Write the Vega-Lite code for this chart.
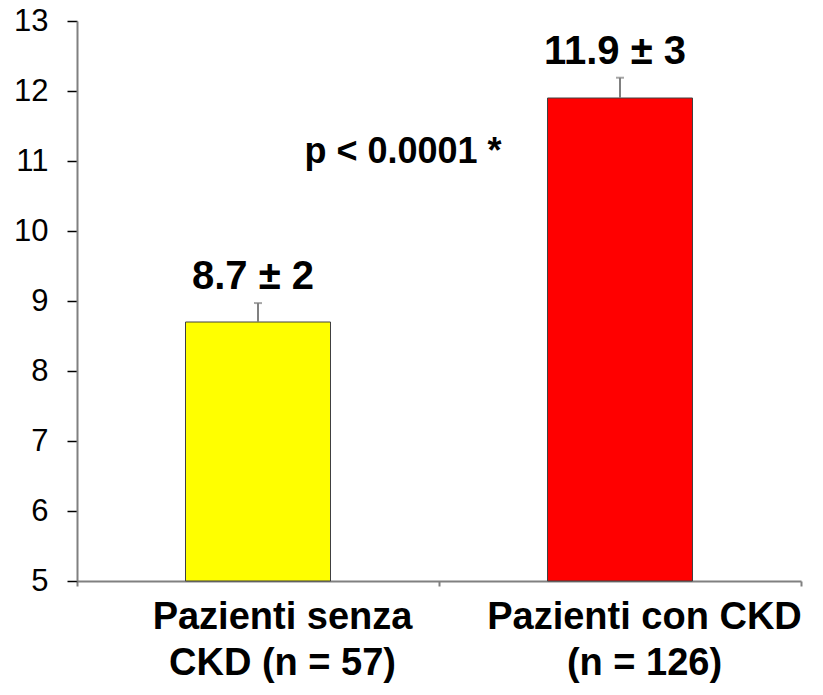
{
  "$schema": "https://vega.github.io/schema/vega-lite/v6.json",
  "width": 724,
  "height": 560,
  "autosize": "none",
  "padding": {"left": 77, "top": 21, "right": 22, "bottom": 114},
  "background": "white",
  "config": {"view": {"stroke": null}},
  "data": {
    "values": [
      {"gruppo": "Pazienti senza|CKD  (n = 57)", "media": 8.7, "sup": 8.97, "etichetta": "8.7 ± 2", "colore": "giallo"},
      {"gruppo": "Pazienti con CKD|(n = 126)", "media": 11.9, "sup": 12.19, "etichetta": "11.9 ± 3", "colore": "rosso"}
    ]
  },
  "layer": [
    {
      "mark": {"type": "bar", "size": 145, "stroke": "#404040", "strokeWidth": 1},
      "encoding": {
        "x": {
          "field": "gruppo",
          "type": "nominal",
          "sort": null,
          "scale": {"paddingInner": 0, "paddingOuter": 0},
          "axis": {
            "title": null,
            "orient": "bottom",
            "labelAngle": 0,
            "labelExpr": "split(datum.label, '|')",
            "labelLimit": 0,
            "labelFont": "Liberation Sans",
            "labelFontWeight": "bold",
            "labelFontSize": 38,
            "labelLineHeight": 46,
            "labelColor": "black",
            "labelPadding": 12,
            "labelOffset": 24,
            "tickBand": "extent",
            "tickSize": 5,
            "tickColor": "#808080",
            "tickWidth": 2,
            "domainColor": "#808080",
            "domainWidth": 2
          }
        },
        "y": {
          "field": "media",
          "type": "quantitative",
          "scale": {"domain": [5, 13], "nice": false, "zero": false},
          "axis": {
            "title": null,
            "grid": false,
            "values": [5, 5.5, 6, 6.5, 7, 7.5, 8, 8.5, 9, 9.5, 10, 10.5, 11, 11.5, 12, 12.5, 13],
            "format": "d",
            "labelExpr": "datum.value % 1 === 0 ? datum.label : ''",
            "labelFont": "Liberation Sans",
            "labelFontSize": 31,
            "labelColor": "black",
            "labelPadding": 19,
            "tickSize": 10,
            "tickColor": "black",
            "tickWidth": 1.5,
            "domainColor": "#808080",
            "domainWidth": 2
          }
        },
        "y2": {"datum": 5},
        "color": {
          "field": "colore",
          "type": "nominal",
          "scale": {"domain": ["giallo", "rosso"], "range": ["#FFFF00", "#FF0000"]},
          "legend": null
        }
      }
    },
    {
      "mark": {"type": "rule", "color": "#808080", "strokeWidth": 2},
      "encoding": {
        "x": {"field": "gruppo", "type": "nominal", "sort": null},
        "y": {"field": "media", "type": "quantitative"},
        "y2": {"field": "sup"}
      }
    },
    {
      "mark": {"type": "tick", "color": "#808080", "size": 8, "thickness": 2, "orient": "horizontal"},
      "encoding": {
        "x": {"field": "gruppo", "type": "nominal", "sort": null},
        "y": {"field": "sup", "type": "quantitative"}
      }
    },
    {
      "mark": {"type": "text", "font": "Liberation Sans", "fontWeight": "bold", "fontSize": 40, "baseline": "alphabetic", "dy": -14, "dx": -5, "color": "black"},
      "encoding": {
        "x": {"field": "gruppo", "type": "nominal", "sort": null},
        "y": {"field": "sup", "type": "quantitative"},
        "text": {"field": "etichetta"}
      }
    },
    {
      "data": {"values": [{"gruppo": "Pazienti con CKD|(n = 126)", "livello": 10.97, "testo": "p < 0.0001  *"}]},
      "mark": {"type": "text", "font": "Liberation Sans", "fontWeight": "bold", "fontSize": 36, "baseline": "alphabetic", "dx": -217, "color": "black"},
      "encoding": {
        "x": {"field": "gruppo", "type": "nominal", "sort": null},
        "y": {"field": "livello", "type": "quantitative"},
        "text": {"field": "testo"}
      }
    }
  ]
}
